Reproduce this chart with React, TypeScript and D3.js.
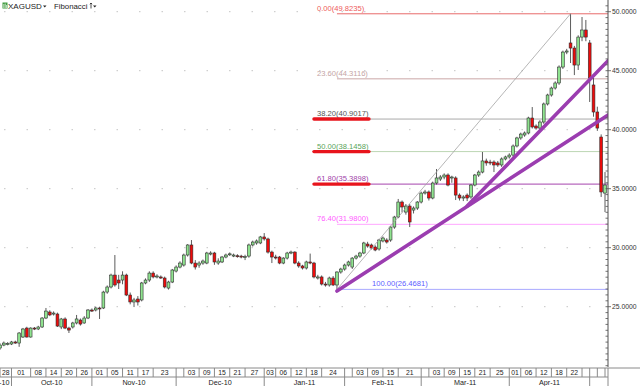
import React from 'react';
import * as d3 from 'd3';

// XAGUSD daily candles, 2010-09-28 .. 2011-05-06 (weekdays)
const firstDay = '2010-09-28';
const lastDay = '2011-05-06';

const opens = [
  21.50, 21.75, 21.84, 21.84, 22.01, 21.92, 22.43, 23.19, 22.43, 23.19,
  23.11, 23.28, 24.04, 24.55, 24.38, 24.38, 23.28, 23.96, 23.19, 23.28,
  23.62, 23.87, 23.62, 24.04, 24.72, 24.72, 24.89, 24.89, 26.24, 26.67,
  27.68, 27.26, 27.26, 27.68, 25.99, 25.40, 25.65, 25.57, 27.01, 27.26,
  27.85, 27.52, 27.52, 27.43, 26.58, 27.09, 28.02, 28.36, 28.53, 29.38,
  30.23, 28.70, 28.53, 28.70, 28.70, 29.46, 29.55, 28.70, 28.79, 29.21,
  29.46, 29.29, 29.32, 29.29, 29.21, 29.29, 30.23, 30.40, 30.40, 30.91,
  30.74, 29.63, 29.21, 29.21, 28.70, 29.12, 29.55, 29.63, 28.70, 28.45,
  28.28, 28.79, 28.70, 27.43, 27.52, 26.92, 26.84, 27.43, 26.84, 27.94,
  28.19, 28.53, 28.36, 29.12, 29.29, 29.55, 30.31, 30.23, 30.06, 29.89,
  30.57, 30.65, 30.65, 31.75, 32.60, 33.87, 33.02, 33.53, 33.19, 33.36,
  33.87, 34.63, 34.72, 34.21, 35.48, 35.82, 35.99, 36.16, 35.91, 35.91,
  34.46, 34.21, 34.46, 34.30, 35.31, 36.16, 36.41, 37.35, 37.26, 37.26,
  37.18, 37.01, 37.52, 37.69, 37.85, 38.62, 39.30, 39.55, 39.72, 40.99,
  40.31, 40.14, 40.65, 42.18, 42.94, 43.53, 43.96, 45.31, 46.58, 47.35,
  46.92, 45.48, 47.85, 48.45, 47.35, 43.79, 41.50, 39.38, 34.63,
];
const highs = [
  21.90, 22.05, 22.00, 22.10, 22.12, 22.85, 23.20, 23.30, 23.25, 23.28,
  23.38, 24.12, 24.89, 24.70, 24.60, 24.50, 24.05, 24.10, 23.30, 23.72,
  24.30, 24.00, 24.20, 24.80, 24.85, 25.00, 25.00, 26.35, 26.80, 27.80,
  29.38, 27.70, 28.00, 27.80, 26.20, 25.75, 25.90, 27.10, 27.40, 28.00,
  28.00, 27.75, 27.65, 27.55, 27.20, 28.20, 28.50, 28.85, 29.50, 30.30,
  30.65, 28.95, 28.85, 29.00, 29.65, 29.70, 29.65, 29.10, 29.30, 29.50,
  29.60, 29.50, 29.45, 29.40, 29.40, 30.35, 30.60, 30.70, 31.00, 31.24,
  30.85, 29.75, 29.40, 29.30, 29.20, 29.65, 29.75, 29.70, 28.85, 28.55,
  28.90, 29.50, 28.80, 27.70, 27.65, 27.10, 27.55, 27.60, 28.00, 28.30,
  28.65, 28.90, 29.20, 29.40, 29.65, 30.50, 30.50, 30.35, 30.20, 30.75,
  30.95, 30.80, 31.85, 32.70, 34.13, 34.00, 33.70, 33.70, 33.50, 33.95,
  34.75, 34.90, 34.85, 35.60, 36.67, 36.15, 36.30, 36.30, 36.10, 36.05,
  34.60, 34.45, 34.60, 35.40, 36.25, 36.55, 38.11, 37.55, 37.45, 37.40,
  37.35, 37.65, 37.80, 38.00, 38.75, 39.40, 39.75, 39.85, 41.10, 41.92,
  40.45, 40.80, 42.30, 43.05, 43.65, 44.10, 45.45, 46.70, 46.85, 49.82,
  47.10, 48.00, 49.55, 49.30, 47.60, 44.40, 41.95, 39.60, 36.41,
];
const lows = [
  21.35, 21.65, 21.72, 21.75, 21.85, 21.60, 22.35, 22.38, 22.38, 23.02,
  23.02, 23.20, 23.95, 24.20, 24.25, 23.28, 23.10, 23.10, 22.77, 23.15,
  23.50, 23.40, 23.55, 23.95, 24.55, 24.60, 23.96, 24.80, 26.10, 26.55,
  26.70, 26.50, 26.90, 25.90, 25.20, 24.97, 25.10, 25.45, 26.90, 27.10,
  27.40, 27.40, 27.35, 26.55, 26.45, 27.00, 27.90, 28.25, 28.40, 29.25,
  28.60, 28.15, 28.30, 28.55, 28.60, 29.35, 28.55, 28.55, 28.70, 29.10,
  29.30, 29.20, 29.15, 29.10, 28.95, 29.15, 30.10, 30.25, 30.30, 30.60,
  29.50, 28.70, 29.00, 28.60, 28.60, 29.00, 29.45, 28.60, 28.30, 28.15,
  28.15, 28.60, 27.40, 27.30, 26.80, 26.70, 26.70, 26.75, 26.47, 27.80,
  28.05, 28.40, 28.20, 29.00, 29.15, 29.45, 30.00, 29.85, 29.70, 29.75,
  30.45, 30.35, 30.50, 31.60, 32.50, 33.00, 32.80, 31.75, 32.90, 33.20,
  33.75, 34.50, 34.00, 34.10, 35.35, 35.65, 35.80, 35.20, 35.50, 34.04,
  34.00, 33.95, 33.95, 34.15, 35.20, 36.00, 36.30, 36.95, 37.00, 36.41,
  36.85, 36.85, 37.40, 37.55, 37.70, 38.50, 39.15, 39.40, 39.60, 40.10,
  40.00, 39.95, 40.50, 42.05, 42.80, 43.40, 43.80, 45.15, 46.40, 45.65,
  44.63, 45.06, 47.50, 47.50, 42.35, 41.10, 39.90, 34.30, 33.02,
];
const closes = [
  21.75, 21.92, 21.88, 22.01, 21.92, 22.77, 23.11, 22.43, 23.19, 23.11,
  23.28, 24.04, 24.63, 24.30, 24.46, 23.36, 23.96, 23.19, 23.02, 23.62,
  23.96, 23.53, 24.04, 24.72, 24.63, 24.89, 24.85, 26.24, 26.67, 27.68,
  26.84, 27.01, 27.68, 25.99, 25.40, 25.57, 25.40, 27.01, 27.26, 27.85,
  27.52, 27.60, 27.43, 26.67, 27.09, 28.11, 28.36, 28.70, 29.38, 30.23,
  28.70, 28.36, 28.70, 28.87, 29.55, 29.55, 28.79, 28.87, 29.21, 29.38,
  29.48, 29.38, 29.28, 29.25, 29.24, 30.23, 30.48, 30.57, 30.91, 30.74,
  29.63, 29.21, 29.18, 28.70, 29.12, 29.55, 29.63, 28.70, 28.45, 28.28,
  28.79, 28.70, 27.52, 27.52, 26.92, 26.84, 27.43, 26.84, 27.94, 28.19,
  28.53, 28.79, 29.12, 29.29, 29.55, 30.40, 30.14, 29.97, 29.80, 30.65,
  30.82, 30.48, 31.75, 32.60, 33.87, 33.45, 33.53, 32.18, 33.36, 33.87,
  34.63, 34.72, 34.21, 35.48, 35.91, 35.99, 36.16, 35.31, 35.99, 34.46,
  34.21, 34.30, 34.21, 35.31, 36.16, 36.41, 37.35, 37.18, 37.18, 37.01,
  37.01, 37.52, 37.69, 37.85, 38.62, 39.30, 39.63, 39.72, 40.99, 40.23,
  40.14, 40.65, 42.18, 42.94, 43.53, 43.96, 45.31, 46.58, 46.67, 46.92,
  45.48, 47.85, 48.45, 47.85, 44.38, 41.50, 40.14, 34.72, 35.31,
];

// Fibonacci retracement drawn from the Jan-28 low to the Apr-25 high
const fibLow = 26.468092;
const fibHigh = 49.823452;
const fibLowDay = '2011-01-28';
const fibHighDay = '2011-04-25';
const fibRatios = [0, 0.236, 0.382, 0.5, 0.618, 0.764, 1];
const underlinedRatios = [0.382, 0.5, 0.618];

// hand drawn trend lines: [candle index, price]
const lowerTrend: [number, number][] = [[88, 26.33], [158.8, 41.25]];
const upperTrend: [number, number][] = [[122, 33.53], [158.8, 45.85]];

// bottom axis cells
const dayCells = [
  '2010-09-28', '2010-10-01', '2010-10-08', '2010-10-14', '2010-10-20', '2010-10-26',
  '2010-11-01', '2010-11-05', '2010-11-11', '2010-11-17', '2010-11-23',
  '2010-12-01', '2010-12-03', '2010-12-09', '2010-12-15', '2010-12-21', '2010-12-27',
  '2011-01-03', '2011-01-06', '2011-01-12', '2011-01-18', '2011-01-24',
  '2011-02-01', '2011-02-03', '2011-02-09', '2011-02-15', '2011-02-21',
  '2011-03-01', '2011-03-03', '2011-03-09', '2011-03-15', '2011-03-21', '2011-03-25',
  '2011-04-01', '2011-04-06', '2011-04-12', '2011-04-18', '2011-04-22', '2011-04-28',
  '2011-05-02', '2011-05-04', '2011-05-06',
];
const monthCells = [
  '2010-09-28', '2010-10-01', '2010-11-01', '2010-12-01', '2011-01-03',
  '2011-02-01', '2011-03-01', '2011-04-01', '2011-05-02',
];

const fibColors: Record<number, { line: string; text: string }> = {
  0: { line: '#e86a6a', text: '#ee5a5a' },
  0.236: { line: '#dcc4c4', text: '#c4a4a4' },
  0.382: { line: '#a9a9a9', text: '#555555' },
  0.5: { line: '#bcd6b4', text: '#5aa55a' },
  0.618: { line: '#a544ad', text: '#a040a8' },
  0.764: { line: '#ffa6ff', text: '#ff5cff' },
  1: { line: '#a9a9ff', text: '#5c5cff' },
};

const FONT = 'Liberation Sans, Arial, sans-serif';
const W = 640;
const H = 386;
const PLOT_R = 608;
const PLOT_B = 367;

export default function App() {
  const parse = d3.timeParse('%Y-%m-%d');
  const key = d3.timeFormat('%Y-%m-%d');
  const days = d3.timeDay
    .range(parse(firstDay)!, d3.timeDay.offset(parse(lastDay)!, 1))
    .filter(d => d.getDay() !== 0 && d.getDay() !== 6);
  const dayIndex = new Map(days.map((d, i) => [key(d), i]));

  const candles = days.map((d, i) => ({
    date: d, i, o: opens[i], h: highs[i], l: lows[i], c: closes[i],
  }));

  const x = d3.scaleLinear().domain([0, days.length - 1]).range([0, 605]);
  const y = d3.scaleLinear().domain([25, 50]).range([306.7, 11.7]);
  const bodyW = 2.8;

  const gridLevels = d3.range(25, 51, 5);
  const minorTicks = d3.range(20, 51, 0.5);

  const lowIdx = dayIndex.get(fibLowDay)!;
  const highIdx = dayIndex.get(fibHighDay)!;
  const fibX0 = x(lowIdx);
  const levels = fibRatios.map(r => ({ r, v: fibHigh - r * (fibHigh - fibLow) }));

  const trend = d3.line<[number, number]>().x(d => x(d[0])).y(d => y(d[1]));

  const cellX = (d: string) => x(dayIndex.get(d)!);
  const fmtDay = d3.timeFormat('%d');
  const fmtMonth = d3.timeFormat('%b-%y');

  return (
    <div>
      <style>{'body{margin:0;}'}</style>
      <svg width={W} height={H} style={{ display: 'block', background: '#fff' }} fontFamily={FONT}>
        <defs>
          <clipPath id="plot">
            <rect x={0} y={0} width={PLOT_R} height={PLOT_B} />
          </clipPath>
        </defs>

        {/* dotted grid */}
        {gridLevels.map(v => (
          <line key={v} x1={4} x2={PLOT_R} y1={y(v)} y2={y(v)}
            stroke="#c4c4c4" strokeWidth={1} strokeDasharray="1.5,21" />
        ))}

        <g clipPath="url(#plot)">
          {/* fibonacci levels */}
          {levels.map(({ r, v }) => (
            <line key={r} x1={fibX0} x2={PLOT_R} y1={y(v)} y2={y(v)}
              stroke={fibColors[r].line} strokeWidth={r === 0.236 ? 1.5 : 1} />
          ))}

          {/* candles */}
          {candles.map(c => {
            const up = c.c >= c.o;
            const top = y(Math.max(c.o, c.c));
            const bot = y(Math.min(c.o, c.c));
            return (
              <g key={c.i}>
                <line x1={x(c.i)} x2={x(c.i)} y1={y(c.h)} y2={y(c.l)} stroke="#4a4a4a" strokeWidth={0.9} />
                <rect x={x(c.i) - bodyW / 2} y={top} width={bodyW} height={Math.max(1, bot - top)}
                  fill={up ? '#8fe38f' : '#ee0b0b'} stroke="#2e2e2e" strokeWidth={0.6} />
              </g>
            );
          })}

          {/* retracement diagonal */}
          <line x1={x(lowIdx)} y1={y(fibLow)} x2={x(highIdx)} y2={y(fibHigh)} stroke="#a3a3a3" strokeWidth={0.8} />

          {/* trend lines */}
          <path d={trend(lowerTrend)!} stroke="#9b3db0" strokeWidth={3.6} fill="none" strokeLinecap="round" />
          <path d={trend(upperTrend)!} stroke="#9b3db0" strokeWidth={3.6} fill="none" strokeLinecap="round" />
        </g>

        {/* fib labels */}
        {levels.map(({ r, v }) => (
          <text key={r} x={r === 1 ? fibX0 + 35 : fibX0 - 20} y={y(v) - 3}
            fontSize={7.6} fill={fibColors[r].text}>
            {`${(r * 100).toFixed(2)}(${v.toFixed(4)})`}
          </text>
        ))}
        {levels.filter(l => underlinedRatios.includes(l.r)).map(({ r, v }) => (
          <line key={'u' + r} x1={fibX0 - 23} x2={fibX0 + 32} y1={y(v)} y2={y(v)}
            stroke="#e8141c" strokeWidth={3.4} strokeLinecap="round" />
        ))}

        {/* right axis */}
        <line x1={PLOT_R} x2={PLOT_R} y1={0} y2={PLOT_B} stroke="#505050" strokeWidth={1} />
        {minorTicks.map(v => (
          <line key={v} x1={PLOT_R - 2.5} x2={PLOT_R} y1={y(v)} y2={y(v)} stroke="#505050" strokeWidth={0.8} />
        ))}
        {gridLevels.map(v => (
          <g key={v}>
            <line x1={PLOT_R} x2={PLOT_R + 3} y1={y(v)} y2={y(v)} stroke="#505050" strokeWidth={0.8} />
            <text x={PLOT_R + 4} y={y(v) + 2.4} fontSize={6.8} fill="#333">{v.toFixed(4)}</text>
          </g>
        ))}

        {/* bottom axis */}
        <line x1={0} x2={W} y1={PLOT_B + 1} y2={PLOT_B + 1} stroke="#8a8a8a" strokeWidth={1} />
        <line x1={0} x2={PLOT_R} y1={377} y2={377} stroke="#8a8a8a" strokeWidth={1} />
        {dayCells.map((d, i) => {
          const x0 = cellX(d);
          const x1 = i < dayCells.length - 1 ? cellX(dayCells[i + 1]) : PLOT_R;
          return (
            <g key={d}>
              <line x1={x0} x2={x0} y1={PLOT_B + 1} y2={377} stroke="#8a8a8a" strokeWidth={1} />
              {x1 - x0 >= 10 && (
                <text x={(x0 + x1) / 2} y={375} fontSize={6.8} textAnchor="middle" fill="#222">
                  {fmtDay(parse(d)!)}
                </text>
              )}
            </g>
          );
        })}
        <line x1={PLOT_R} x2={PLOT_R} y1={PLOT_B + 1} y2={H} stroke="#8a8a8a" strokeWidth={1} />
        {monthCells.map((d, i) => {
          const x0 = cellX(d);
          const x1 = i < monthCells.length - 1 ? cellX(monthCells[i + 1]) : PLOT_R;
          const label = fmtMonth(parse(d)!);
          const narrow = x1 - x0 < 26;
          return (
            <g key={d}>
              {i > 0 && <line x1={x0} x2={x0} y1={377} y2={H} stroke="#8a8a8a" strokeWidth={1} />}
              {(!narrow || i === 0) && (
                <text x={narrow ? x1 - 2 : (x0 + x1) / 2} y={384.5} fontSize={7.2}
                  textAnchor={narrow ? 'end' : 'middle'} fill="#222">
                  {label}
                </text>
              )}
            </g>
          );
        })}

        {/* header */}
        <rect x={2.5} y={2.5} width={5} height={6} fill="#3f9a3f" />
        <line x1={3.8} x2={3.8} y1={4} y2={8} stroke="#fff" strokeWidth={0.7} />
        <line x1={5.2} x2={5.2} y1={3.5} y2={8} stroke="#fff" strokeWidth={0.7} />
        <line x1={6.6} x2={6.6} y1={5} y2={8} stroke="#fff" strokeWidth={0.7} />
        <text x={8} y={8.5} fontSize={8} fill="#222">XAGUSD</text>
        <path d="M43,5.5 L46.5,5.5 L44.75,7.5 Z" fill="#222" />
        <text x={54} y={8.5} fontSize={7.8} fill="#222">Fibonacci</text>
        <path d="M91,3 L91,8.5 M89.8,4.2 L91,3 L92.2,4.2" stroke="#222" strokeWidth={0.8} fill="none" />
        <path d="M93,5.5 L96.5,5.5 L94.75,7.5 Z" fill="#222" />
      </svg>
    </div>
  );
}
